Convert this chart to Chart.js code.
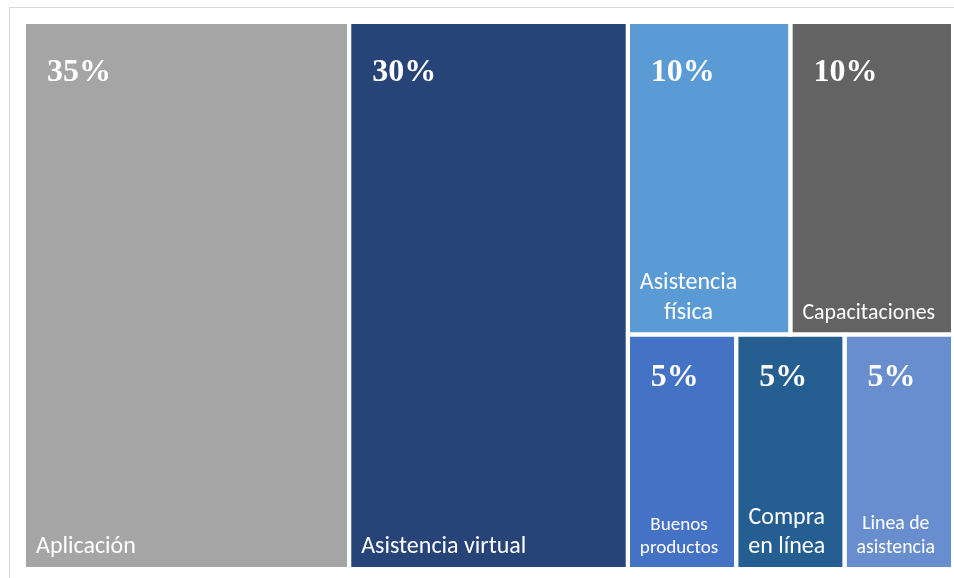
<!DOCTYPE html>
<html>
<head>
<meta charset="utf-8">
<script src="https://cdn.jsdelivr.net/npm/chart.js@4/dist/chart.umd.min.js"></script>
<style>
  html, body { margin: 0; padding: 0; background: #ffffff; }
  #wrap { position: relative; width: 954px; height: 578px; }
</style>
</head>
<body>
<div id="wrap"><canvas id="c" width="954" height="578"></canvas></div>
<script>
// ---- data ----
const categories = ["Aplicación", "Asistencia virtual", "Asistencia física", "Capacitaciones",
                    "Buenos productos", "Compra en línea", "Linea de asistencia"];
const values = [35, 30, 10, 10, 5, 5, 5];
const valueLabels = ["35%", "30%", "10%", "10%", "5%", "5%", "5%"];
const colors = ["#A5A5A5", "#264478", "#5B9BD5", "#636363", "#4472C4", "#255E91", "#698ED0"];
// grouping of categories into nested strips (slice-and-dice, alternating direction)
const grouping = [0, 1, [[2, 3], [4, 5, 6]]];

// ---- treemap layout in data space (0..100 x 0..100) ----
function total(node) {
  return typeof node === "number" ? values[node] : node.reduce((s, n) => s + total(n), 0);
}
const cells = [];
function layout(node, x0, y0, x1, y1, horizontal) {
  if (typeof node === "number") { cells[node] = { x0, y0, x1, y1 }; return; }
  const sum = total(node);
  let pos = horizontal ? x0 : y0;
  node.forEach(child => {
    const frac = total(child) / sum;
    if (horizontal) {
      const w = (x1 - x0) * frac;
      layout(child, pos, y0, pos + w, y1, false); pos += w;
    } else {
      const h = (y1 - y0) * frac;
      layout(child, x0, pos, x1, pos + h, true); pos += h;
    }
  });
}
layout(grouping, 0, 0, 100, 100, true);

const datasets = categories.map((name, i) => {
  const c = cells[i];
  return {
    label: name,
    data: [{ x: c.x0, y: c.y0 }, { x: c.x1, y: c.y0 }, { x: c.x1, y: c.y1 },
           { x: c.x0, y: c.y1 }, { x: c.x0, y: c.y0 }],
    fill: "shape",
    backgroundColor: colors[i],
    borderColor: "#ffffff",
    borderWidth: 4,
    borderJoinStyle: "miter",
    pointRadius: 0,
    pointHoverRadius: 0,
    tension: 0
  };
});

const framePlugin = {
  id: "frame",
  beforeDraw(chart) {
    const ctx = chart.ctx;
    ctx.save();
    ctx.strokeStyle = "#d9d9d9";
    ctx.lineWidth = 1;
    ctx.strokeRect(9.5, 7.5, 1000, 1000);
    ctx.restore();
  }
};

const FONT = "Carlito, Lato, 'Open Sans', sans-serif";
const labelPlugin = {
  id: "cellLabels",
  afterDatasetsDraw(chart) {
    const ctx = chart.ctx;
    const xs = chart.scales.x, ys = chart.scales.y;
    ctx.save();
    ctx.fillStyle = "#ffffff";
    categories.forEach((name, i) => {
      const c = cells[i];
      const left = xs.getPixelForValue(c.x0) + 2;
      const right = xs.getPixelForValue(c.x1) - 2;
      const top = ys.getPixelForValue(c.y0) + 2;
      const bottom = ys.getPixelForValue(c.y1) - 2;
      const cw = right - left;
      // value label
      ctx.font = "bold 32px 'Liberation Serif', 'Times New Roman', serif";
      ctx.textAlign = "left";
      ctx.textBaseline = "alphabetic";
      ctx.fillText(valueLabels[i], left + 21, top + (bottom - top > 250 ? 57 : 49));
      // category label: shrink so the longest word fits, then wrap
      const words = name.split(" ");
      ctx.font = "24px " + FONT;
      const longest = Math.max(...words.map(w => ctx.measureText(w).width));
      const size = Math.min(24, 24 * (cw - 26) / longest);
      ctx.font = size.toFixed(1) + "px " + FONT;
      const maxW = cw - 20;
      const lines = [];
      let cur = "";
      words.forEach(w => {
        const t = cur ? cur + " " + w : w;
        if (cur && ctx.measureText(t).width > maxW) { lines.push(cur); cur = w; }
        else cur = t;
      });
      if (cur) lines.push(cur);
      const blockW = Math.max(...lines.map(l => ctx.measureText(l).width));
      const cx = left + 10 + blockW / 2;
      ctx.textAlign = "center";
      const lh = size * 1.22;
      lines.forEach((l, k) => {
        ctx.fillText(l, cx, bottom - 14 - (lines.length - 1 - k) * lh);
      });
    });
    ctx.restore();
  }
};

new Chart(document.getElementById("c"), {
  type: "line",
  data: { datasets },
  options: {
    responsive: false,
    animation: false,
    events: [],
    layout: { padding: { left: 24, top: 22, right: 1, bottom: 9 } },
    scales: {
      x: { type: "linear", min: 0, max: 100, display: false },
      y: { type: "linear", min: 0, max: 100, reverse: true, display: false }
    },
    plugins: {
      legend: { display: false },
      tooltip: { enabled: false },
      filler: { drawTime: "beforeDatasetsDraw" }
    }
  },
  plugins: [framePlugin, labelPlugin]
});
</script>
</body>
</html>
